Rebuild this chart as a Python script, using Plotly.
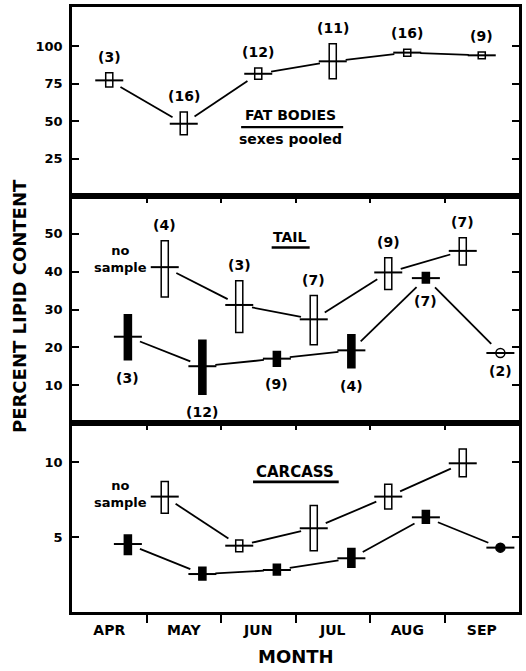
import math
import plotly.graph_objects as go

# ---------------- data ----------------
months = ["APR", "MAY", "JUN", "JUL", "AUG", "SEP"]

# Fat bodies (sexes pooled)
fat_mean = [77.1, 48.2, 81.5, 89.8, 95.6, 93.8]
fat_lo = [72.7, 40.9, 77.8, 78.2, 93.1, 91.5]
fat_hi = [82.2, 56.0, 85.3, 101.5, 97.8, 96.0]
fat_n = [3, 16, 12, 11, 16, 9]

# Tail - open symbols (no April sample)
tail_o_mean = [None, 41.2, 31.2, 27.4, 39.8, 45.5]
tail_o_lo = [None, 33.3, 23.9, 20.7, 35.3, 41.8]
tail_o_hi = [None, 48.2, 37.6, 33.7, 43.7, 49.0]
tail_o_n = [None, 4, 3, 7, 9, 7]

# Tail - filled symbols (September: single circle)
tail_f_mean = [22.8, 15.0, 17.0, 19.2, 38.3, 18.5]
tail_f_lo = [16.7, 7.6, 15.0, 14.6, 37.0, None]
tail_f_hi = [28.6, 21.9, 18.9, 23.3, 39.8, None]
tail_f_n = [3, 12, 9, 4, 7, 2]

# Carcass - open symbols
carc_o_mean = [None, 7.69, 4.42, 5.58, 7.69, 9.91]
carc_o_lo = [None, 6.58, 4.02, 4.09, 6.87, 9.02]
carc_o_hi = [None, 8.69, 4.80, 7.09, 8.51, 10.87]

# Carcass - filled symbols
carc_f_mean = [4.53, 2.53, 2.80, 3.58, 6.31, 4.29]
carc_f_lo = [3.84, 2.13, 2.47, 2.98, 5.91, None]
carc_f_hi = [5.13, 2.98, 3.18, 4.24, 6.76, None]

fat_ticks = [25, 50, 75, 100]
tail_ticks = [10, 20, 30, 40, 50]
carc_ticks = [5, 10]

# ---------------- layout geometry ----------------
W, H = 526, 671
ML, MR, MT, MB = 72, 7, 4, 59
PW, PH = W - ML - MR, H - MT - MB
XR = [-0.5, 5.5]
XPX = PW / (XR[1] - XR[0])
dom1 = [0.6875, 1.0]
dom2 = [0.3125, 0.6875]
dom3 = [0.0, 0.3125]
YR1, YR2, YR3 = [0, 126], [0, 60], [0, 12.6]

OPEN_OFF, FILL_OFF = -0.255, 0.25
FONT = "DejaVu Sans"
BOX_W = 0.095

fig = go.Figure()


def ypx(dom, yr):
    return (dom[1] - dom[0]) * PH / (yr[1] - yr[0])


def add_series(offset, mean, lo, hi, fill, xa, ya, dom, yr, circle_fill=None, gap=13):
    xs = [i + offset for i in range(len(months))]
    # boxes
    bx, bb, bh = [], [], []
    for x, l, h in zip(xs, lo, hi):
        if l is not None and h is not None:
            bx.append(x)
            bb.append(l)
            bh.append(h - l)
    fig.add_trace(go.Bar(x=bx, y=bh, base=bb, width=BOX_W,
                         marker=dict(color=fill, line=dict(color="black", width=1.5)),
                         xaxis=xa, yaxis=ya, hoverinfo="skip", showlegend=False))
    # connecting lines with gaps around the symbols
    py = ypx(dom, yr)
    pts = [(x, m) for x, m in zip(xs, mean) if m is not None]
    lx, ly = [], []
    for (x1, y1), (x2, y2) in zip(pts[:-1], pts[1:]):
        dx, dy = (x2 - x1) * XPX, (y2 - y1) * py
        L = math.hypot(dx, dy)
        f = gap / L
        lx += [x1 + (x2 - x1) * f, x2 - (x2 - x1) * f, None]
        ly += [y1 + (y2 - y1) * f, y2 - (y2 - y1) * f, None]
    fig.add_trace(go.Scatter(x=lx, y=ly, mode="lines", line=dict(color="black", width=1.8),
                             xaxis=xa, yaxis=ya, hoverinfo="skip", showlegend=False))
    # circles for points without a range
    cx = [x for x, m, l in zip(xs, mean, lo) if m is not None and l is None]
    cy = [m for m, l in zip(mean, lo) if m is not None and l is None]
    if cx:
        fig.add_trace(go.Scatter(x=cx, y=cy, mode="markers",
                                 marker=dict(symbol="circle", size=9, color=circle_fill,
                                             line=dict(color="black", width=1.5)),
                                 xaxis=xa, yaxis=ya, hoverinfo="skip", showlegend=False))
    # mean crossbars
    mx = [x for x, m in zip(xs, mean) if m is not None]
    my = [m for m in mean if m is not None]
    fig.add_trace(go.Scatter(x=mx, y=my, mode="markers",
                             marker=dict(symbol="line-ew", size=20,
                                         line=dict(color="black", width=2)),
                             xaxis=xa, yaxis=ya, hoverinfo="skip", showlegend=False))
    return xs


def add_counts(xs, ns, anchor_vals, xa, ya, above):
    for x, n, v in zip(xs, ns, anchor_vals):
        if n is None or v is None:
            continue
        fig.add_annotation(x=x, y=v, xref=xa, yref=ya, text=f"({n})", showarrow=False,
                           yanchor="bottom" if above else "top",
                           yshift=6 if above else -8,
                           font=dict(family=FONT, size=14, color="black", weight="bold"))


# Panel 1: fat bodies
xs = add_series(0.0, fat_mean, fat_lo, fat_hi, "white", "x", "y", dom1, YR1)
add_counts(xs, fat_n, fat_hi, "x", "y", True)

# Panel 2: tail
xs_o = add_series(OPEN_OFF, tail_o_mean, tail_o_lo, tail_o_hi, "white", "x2", "y2", dom2, YR2)
add_counts(xs_o, tail_o_n, tail_o_hi, "x2", "y2", True)
xs_f = add_series(FILL_OFF, tail_f_mean, tail_f_lo, tail_f_hi, "black", "x2", "y2", dom2, YR2,
                  circle_fill="white")
add_counts(xs_f, tail_f_n, [l if l is not None else m for l, m in zip(tail_f_lo, tail_f_mean)],
           "x2", "y2", False)

# Panel 3: carcass
xs_co = add_series(OPEN_OFF, carc_o_mean, carc_o_lo, carc_o_hi, "white", "x3", "y3", dom3, YR3)
xs_cf = add_series(FILL_OFF, carc_f_mean, carc_f_lo, carc_f_hi, "black", "x3", "y3", dom3, YR3,
                   circle_fill="black")

# invisible anchor traces so the overlaid month / tick axes are drawn
for xa in ("x4", "x5"):
    fig.add_trace(go.Scatter(x=list(range(len(months))), y=[1] * len(months), mode="markers",
                             marker=dict(opacity=0), xaxis=xa, yaxis="y3",
                             hoverinfo="skip", showlegend=False))

# "no sample" notes
for xa, ya, xs_, mean, ysh in [("x2", "y2", xs_o, tail_o_mean, 8), ("x3", "y3", xs_co, carc_o_mean, 3)]:
    fig.add_annotation(x=xs_[1], y=mean[1], xref=xa, yref=ya, text="no<br>sample",
                       showarrow=False, xanchor="right", xshift=-16, yshift=ysh, align="center",
                       font=dict(family=FONT, size=13, color="black", weight="bold"))

# panel titles
tfont = dict(family=FONT, size=14, color="black", weight="bold")
fig.add_annotation(x=2.43, y=54, xref="x", yref="y", text="FAT BODIES", showarrow=False, font=tfont)
fig.add_annotation(x=2.43, y=38, xref="x", yref="y", text="sexes pooled", showarrow=False, font=tfont)
fig.add_shape(type="line", x0=1.77, x1=3.14, y0=46, y1=46, xref="x", yref="y",
              line=dict(color="black", width=2.2))
fig.add_annotation(x=2.43, y=49.2, xref="x2", yref="y2", text="TAIL", showarrow=False, font=tfont)
fig.add_shape(type="line", x0=2.18, x1=2.69, y0=46.4, y1=46.4, xref="x2", yref="y2",
              line=dict(color="black", width=2.5))
fig.add_annotation(x=2.49, y=9.33, xref="x3", yref="y3", text="CARCASS", showarrow=False,
                   font=dict(family=FONT, size=15, color="black", weight="bold"))
fig.add_shape(type="line", x0=1.93, x1=3.08, y0=8.67, y1=8.67, xref="x3", yref="y3",
              line=dict(color="black", width=2.8))

# axis titles
fig.add_annotation(x=(19.5 - ML) / PW, y=0.505, xref="paper", yref="paper",
                   xanchor="center", yanchor="middle",
                   text="PERCENT LIPID CONTENT", textangle=-90, showarrow=False,
                   font=dict(family=FONT, size=18, color="black", weight="bold"))
fig.add_annotation(x=0.5, y=(612 - 657) / PH, xref="paper", yref="paper", text="MONTH",
                   xanchor="center", yanchor="middle",
                   showarrow=False, font=dict(family=FONT, size=18, color="black", weight="bold"))

bounds = [i + 0.5 for i in range(len(months) - 1)]
LW = 2.5
tickfont = dict(family=FONT, size=13, color="black", weight="bold")
common_x = dict(range=XR, showgrid=False, zeroline=False, fixedrange=True)

yax = lambda dom, yr, tv, anchor: dict(
    domain=dom, range=yr, anchor=anchor, tickvals=tv, ticks="inside", ticklen=7, tickwidth=2,
    tickcolor="black", showline=True, linewidth=LW, linecolor="black", mirror="ticks",
    showgrid=False, zeroline=False, tickfont=tickfont, ticklabelstandoff=4)

fig.update_layout(
    width=W, height=H,
    margin=dict(l=ML, r=MR, t=MT, b=MB),
    paper_bgcolor="white", plot_bgcolor="white",
    barmode="overlay", showlegend=False,
    font=dict(family=FONT, color="black"),
    xaxis=dict(**common_x, anchor="y", showline=True, linewidth=LW, linecolor="black",
               mirror=True, ticks="", showticklabels=False),
    xaxis2=dict(**common_x, anchor="y2", side="top", showline=True, linewidth=LW,
                linecolor="black", mirror=True, tickvals=bounds, ticks="inside", ticklen=7,
                tickwidth=2, tickcolor="black", showticklabels=False),
    xaxis3=dict(**common_x, anchor="y3", side="bottom", showline=True, linewidth=LW,
                linecolor="black", mirror=True, tickvals=bounds, ticks="outside", ticklen=8,
                tickwidth=2, tickcolor="black", showticklabels=False),
    xaxis4=dict(**common_x, anchor="y3", overlaying="x3", side="top", showline=False,
                tickvals=bounds, ticks="inside", ticklen=7, tickwidth=2, tickcolor="black",
                showticklabels=False),
    xaxis5=dict(**common_x, anchor="y3", overlaying="x3", side="bottom", showline=False,
                tickvals=list(range(len(months))), ticktext=months, ticks="",
                tickfont=dict(family=FONT, size=14, color="black", weight="bold"),
                ticklabelstandoff=8),
    yaxis=yax(dom1, YR1, fat_ticks, "x"),
    yaxis2=yax(dom2, YR2, tail_ticks, "x2"),
    yaxis3=yax(dom3, YR3, carc_ticks, "x3"),
)

fig.write_html("out.html")
